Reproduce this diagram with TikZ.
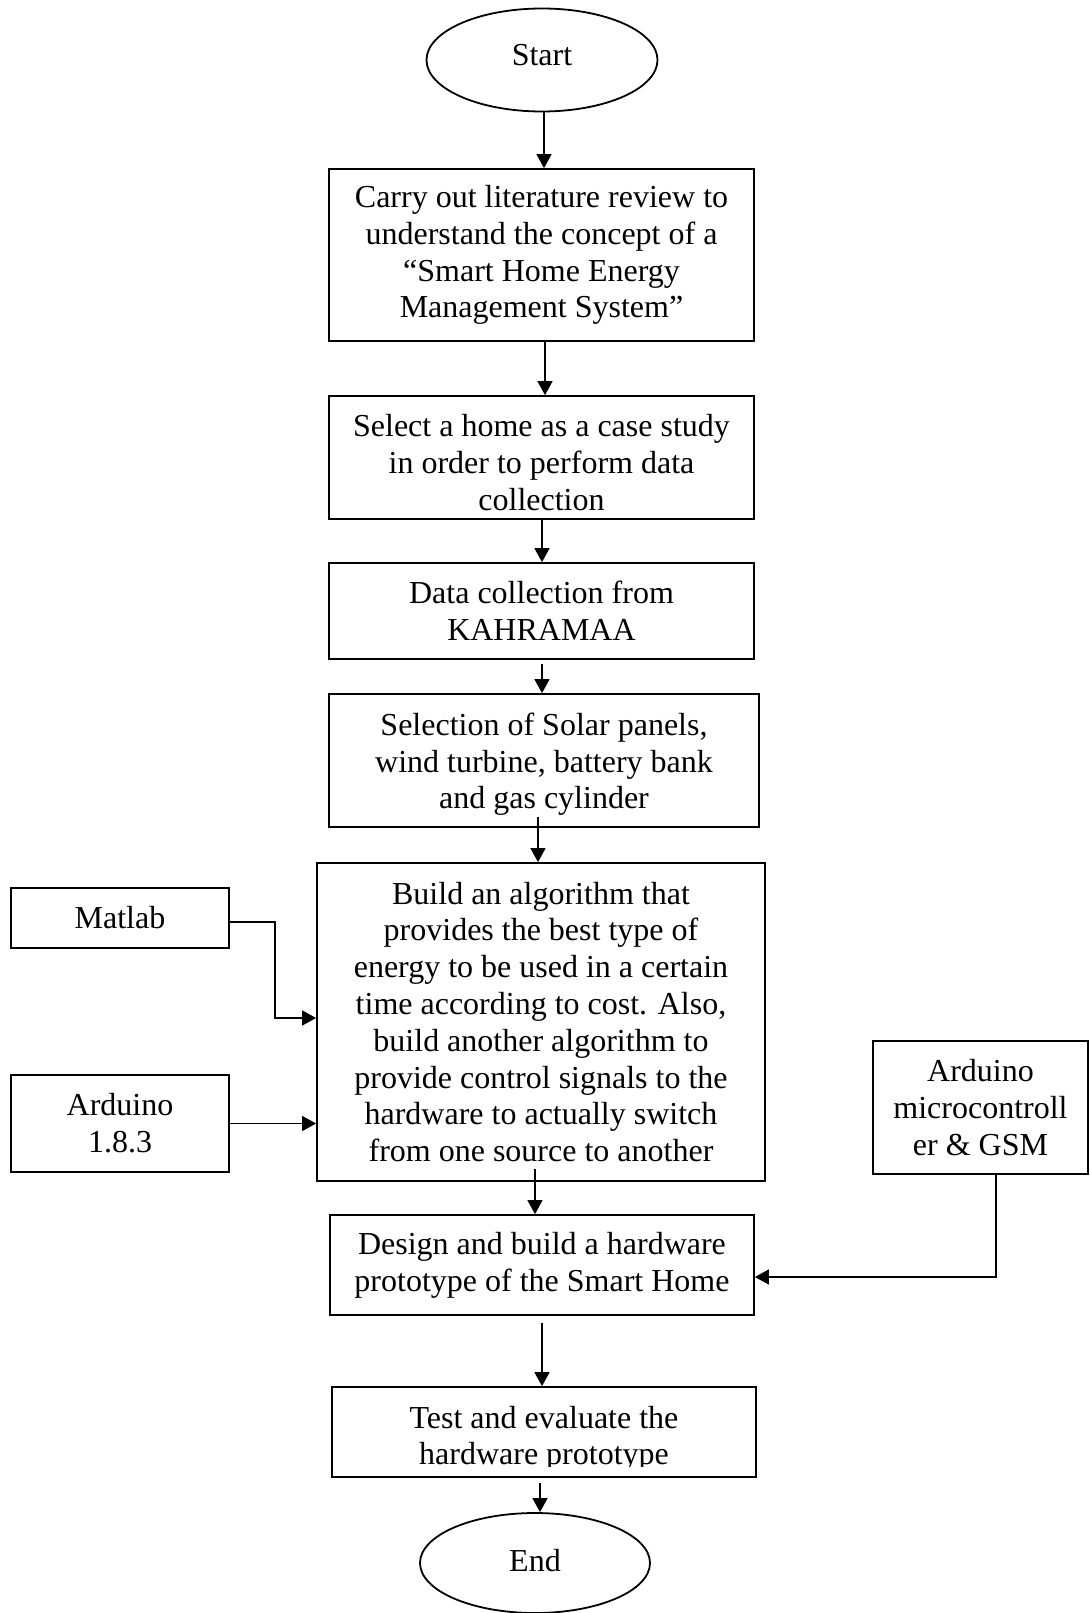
\documentclass[tikz,border=0pt]{standalone}
\usepackage{fontspec}
\setmainfont{Liberation Serif}
\usetikzlibrary{arrows.meta,calc,shapes.geometric}

% strut that lowers the text block of a box by half its extra height
\newcommand{\lowerby}[1]{\rule{0pt}{#1}}

\begin{document}
\begin{tikzpicture}[x=1pt,y=-1pt,
  txt/.style={align=center,inner sep=0pt,font=\fontsize{32}{36.8}\selectfont},
  stepbox/.style={txt,draw,rectangle,line width=1.8pt},
  sidebox/.style={txt,draw,rectangle,line width=1.6pt},
  terminal/.style={txt,draw,ellipse,line width=1.8pt},
  arr/.style={line width=1.5pt,-{Triangle[length=14pt,width=15pt]}}]

\useasboundingbox (0,0) rectangle (1089,1613);

% main flow
\node[terminal,minimum width=231,minimum height=103,text depth=10pt] (start) at (542,60) {Start};
\node[stepbox,minimum width=425,minimum height=172] (b1) at (541.5,255)
  {Carry out literature review to\\understand the concept of a\\``Smart Home Energy\\Management System''};
\node[stepbox,minimum width=425,minimum height=123] (b2) at (541.5,457.5)
  {\lowerby{32pt}Select a home as a case study\\in order to perform data\\collection};
\node[stepbox,minimum width=425,minimum height=96] (b3) at (541.5,611)
  {Data collection from\\KAHRAMAA};
\node[stepbox,minimum width=430,minimum height=133] (b4) at (544,760.5)
  {\lowerby{30pt}Selection of Solar panels,\\wind turbine, battery bank\\and gas cylinder};
\node[stepbox,minimum width=448,minimum height=318] (b5) at (541,1022)
  {Build an algorithm that\\provides the best type of\\energy to be used in a certain\\time according to cost. Also,\\build another algorithm to\\provide control signals to the\\hardware to actually switch\\from one source to another};
\node[stepbox,minimum width=424,minimum height=100] (b6) at (542,1265)
  {Design and build a hardware\\prototype of the Smart Home};
\node[stepbox,minimum width=424,minimum height=90] (b7) at (544,1432)
  {\lowerby{36pt}Test and evaluate the\\hardware prototype};
% the text frame of the last step cuts off the descenders of its second line
\fill[white] ($(b7.south west)+(1.5,-11)$) rectangle ($(b7.south east)+(-1.5,-1.5)$);
\node[terminal,minimum width=230,minimum height=100,text depth=6pt] (end) at (535,1563) {End};

% tools feeding the steps
\node[sidebox,minimum width=218,minimum height=60] (matlab) at (120,918) {Matlab};
\node[sidebox,minimum width=218,minimum height=97] (ardide) at (120,1123.5) {Arduino\\1.8.3};
\node[sidebox,minimum width=215,minimum height=133] (micro) at (980.5,1107.5)
  {Arduino\\microcontroll\\er \& GSM};

% start points of the main flow connectors
\coordinate (s0) at ($(start.south)+(2,0)$);
\coordinate (s1) at ($(b1.south)+(3.5,0)$);
\coordinate (s2) at ($(b2.south)+(0.5,0)$);
\coordinate (s3) at ($(b3.south)+(0.5,4)$);
\coordinate (s4) at ($(b4.south)+(-6,-11)$);
\coordinate (s5) at ($(b5.south)+(-6,-13)$);
\coordinate (s6) at ($(b6.south)+(0,7)$);
\coordinate (s7) at ($(b7.south)+(-4,5)$);

% main flow connectors
\draw[arr] (s0) -- (s0 |- b1.north);
\draw[arr] (s1) -- (s1 |- b2.north);
\draw[arr] (s2) -- (s2 |- b3.north);
\draw[arr] (s3) -- (s3 |- b4.north);
\draw[arr] (s4) -- (s4 |- b5.north);
\draw[arr] (s5) -- (s5 |- b6.north);
\draw[arr] (s6) -- (s6 |- b7.north);
\draw[arr] (s7) -- (s7 |- end.north);

% side connectors
\coordinate (mout) at ($(matlab.east)+(0,4)$);
\coordinate (mbend) at (275,1018);
\draw[arr] (mout) -| (mbend) -- (mbend -| b5.west);
\draw[arr] (ardide.east) -- (ardide.east -| b5.west);
\coordinate (gbend) at (996,1277);
\draw[arr] (gbend |- micro.south) -- (gbend) -- (gbend -| b6.east);

\end{tikzpicture}
\end{document}
